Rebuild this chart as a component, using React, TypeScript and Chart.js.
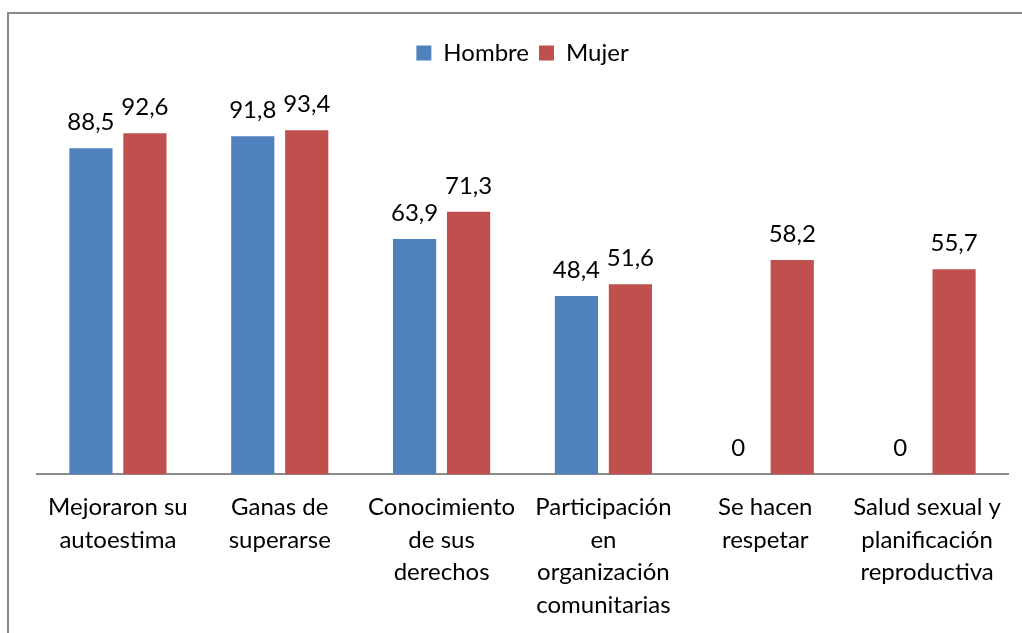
import React, { useEffect, useRef } from "react";
import { Chart, registerables } from "chart.js";

Chart.register(...registerables);

const categories: string[][] = [
  ["Mejoraron su", "autoestima"],
  ["Ganas de", "superarse"],
  ["Conocimiento", "de sus", "derechos"],
  ["Participación", "en", "organización", "comunitarias"],
  ["Se hacen", "respetar"],
  ["Salud sexual y", "planificación", "reproductiva"],
];
const hombre = [88.5, 91.8, 63.9, 48.4, 0, 0];
const mujer = [92.6, 93.4, 71.3, 51.6, 58.2, 55.7];
const seriesNames = ["Hombre", "Mujer"];

const FONT = "Lato, 'Noto Sans', sans-serif";

const legendSpacer = {
  id: "legendSpacer",
  beforeInit(chart: any) {
    const orig = chart.legend.fit;
    chart.legend.fit = function () {
      orig.bind(this)();
      this.height += 31;
    };
  },
};

const valueLabels = {
  id: "valueLabels",
  afterDatasetsDraw(chart: any) {
    const ctx = chart.ctx;
    ctx.save();
    ctx.font = `24px ${FONT}`;
    ctx.fillStyle = "#000";
    ctx.textAlign = "center";
    ctx.textBaseline = "alphabetic";
    chart.data.datasets.forEach((ds: any, i: number) => {
      const meta = chart.getDatasetMeta(i);
      meta.data.forEach((bar: any, j: number) => {
        const v = ds.data[j];
        const txt = String(v).replace(".", ",");
        ctx.fillText(txt, bar.x, bar.y - 18);
      });
    });
    ctx.restore();
  },
};

export default function App() {
  const ref = useRef<HTMLCanvasElement>(null);
  useEffect(() => {
    if (!ref.current) return;
    const chart = new Chart(ref.current, {
      type: "bar",
      data: {
        labels: categories,
        datasets: [
          { label: seriesNames[0], data: hombre, backgroundColor: "#4F81BD", categoryPercentage: 0.667, barPercentage: 0.8 },
          { label: seriesNames[1], data: mujer, backgroundColor: "#C0504D", categoryPercentage: 0.667, barPercentage: 0.8 },
        ],
      },
      options: {
        animation: false,
        responsive: false,
        maintainAspectRatio: false,
        layout: { padding: { left: 37, right: 14, top: 31, bottom: 0 } },
        plugins: {
          legend: {
            position: "top",
            labels: {
              boxWidth: 15,
              boxHeight: 15,
              padding: 10,
              color: "#000",
              font: { family: FONT, size: 24 },
            },
          },
          tooltip: { enabled: false },
        },
        scales: {
          x: {
            grid: { display: false },
            border: { display: true, color: "#8c8c8c", width: 2 },
            ticks: {
              color: "#000",
              font: { family: FONT, size: 24, lineHeight: 1.35 },
              maxRotation: 0,
              autoSkip: false,
              padding: 9,
            },
          },
          y: { display: false, min: 0, max: 100 },
        },
      },
      plugins: [legendSpacer, valueLabels],
    });
    return () => chart.destroy();
  }, []);
  return (
    <div style={{ position: "fixed", left: 0, top: 0, width: 1022, height: 633, overflow: "hidden", background: "#fff" }}>
      <div style={{ position: "absolute", left: 7, top: 12, width: 1100, height: 700, border: "2px solid #888" }} />
      <canvas ref={ref} width={1022} height={630} style={{ position: "absolute", left: 0, top: 0, width: 1022, height: 630 }} />
    </div>
  );
}
